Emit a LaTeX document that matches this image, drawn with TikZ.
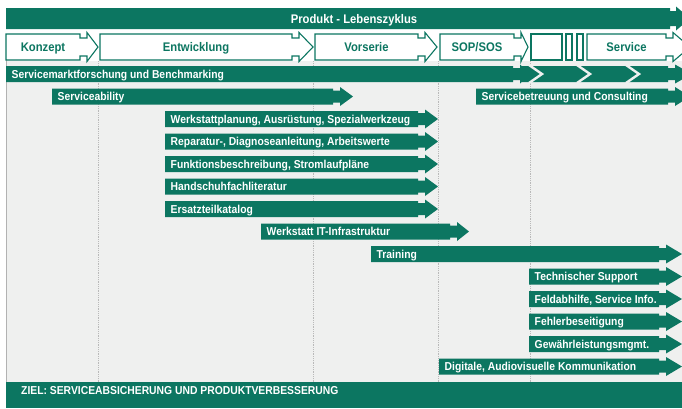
\documentclass[tikz,border=0pt]{standalone}
\usepackage{fontspec}
\setmainfont{Liberation Sans}[FakeStretch=0.9]

\definecolor{gruen}{HTML}{0C7661}
\definecolor{hintergrund}{HTML}{EFF0EF}

\tikzset{
  balkentext/.style={anchor=base west, inner sep=0pt, text=white, font=\fontsize{11.5}{13}\selectfont\bfseries},
  phasebox/.style={draw=gruen, fill=white, line width=1.1pt},
  phasetext/.style={anchor=base, inner sep=0pt, text=gruen, font=\fontsize{12.5}{14}\selectfont\bfseries},
  trenner/.style={draw=gray!55, densely dotted, line width=0.8pt},
  kerbe/.style={draw=hintergrund, line width=2.4pt},
}

% #1 name, #2 y, #3 start, #4 end of bar, #5 tip, #6 text
\newcommand{\balken}[6]{%
  \fill[gruen] (#3,{#2-8}) -- (#4,{#2-8}) -- (#4,{#2-6}) -- ({#4+7},{#2-6}) -- ({#4+7},{#2-9.5})
    -- (#5,#2) -- ({#4+7},{#2+9.5}) -- ({#4+7},{#2+6}) -- (#4,{#2+6}) -- (#4,{#2+8}) -- (#3,{#2+8}) -- cycle;
  \node[balkentext] (#1) at ({#3+5.5},{#2+4.3}) {#6};
}

% #1 name, #2 start, #3 end of box, #4 tip, #5 text
\newcommand{\phase}[5]{%
  \draw[phasebox] (#2,34) -- (#3,34) -- (#3,38) -- ({#3+7},38) -- ({#3+7},32.5) -- (#4,47)
    -- ({#3+7},61.5) -- ({#3+7},56) -- (#3,56) -- (#3,60) -- (#2,60) -- cycle;
  \node[phasetext] (#1) at ({(#2+#3)/2},51.5) {#5};
}

\begin{document}
\begin{tikzpicture}[x=1pt, y=-1pt]
\clip (0,0) rectangle (682,408);
\fill[white] (0,0) rectangle (682,408);

\fill[hintergrund] (6,61) rectangle (682,382);
\draw[gray!60, line width=0.6pt] (6,34) -- (6,382);
\foreach \x in {98,313,438,530}
  \draw[trenner] (\x,61) -- (\x,382);

% Lebenszyklus
\fill[gruen] (6,8) -- (670,8) -- (670,11) -- (676,11) -- (676,6.5) -- (690,18.5)
  -- (676,30.5) -- (676,26) -- (670,26) -- (670,29) -- (6,29) -- cycle;
\node[phasetext, text=white] (zyklus) at (354,23) {Produkt - Lebenszyklus};

\phase{konzept}{6}{80}{98}{Konzept}
\phase{entwicklung}{100}{292}{313}{Entwicklung}
\phase{vorserie}{315}{418}{437}{Vorserie}
\phase{sop}{440}{514}{528}{SOP/SOS}
\draw[phasebox] (531,34) rectangle (562,60);
\draw[phasebox] (566,34) rectangle (572,60);
\draw[phasebox] (577,34) rectangle (583,60);
\phase{service}{587}{666}{690}{Service}

% Balken
\fill[gruen] (521,66) -- (668,66) -- (668,68) -- (675,68) -- (675,64.5) -- (692,74)
  -- (675,83.5) -- (675,80) -- (668,80) -- (668,82) -- (521,82) -- cycle;
\balken{markt}{74}{6}{513}{530}{Servicemarktforschung und Benchmarking}
\foreach \x in {530,578,627}
  \draw[kerbe] ({\x-1},65) -- ({\x+12},74) -- ({\x-1},83);

\balken{serviceability}{96.5}{52}{333}{353}{Serviceability}
\balken{betreuung}{96.5}{476}{668}{690}{Servicebetreuung und Consulting}
\balken{werkstatt}{119}{165}{418}{438}{Werkstattplanung, Ausrüstung, Spezialwerkzeug}
\balken{reparatur}{141.5}{165}{418}{438}{Reparatur-, Diagnoseanleitung, Arbeitswerte}
\balken{funktion}{164}{165}{418}{438}{Funktionsbeschreibung, Stromlaufpläne}
\balken{handschuh}{186.5}{165}{418}{438}{Handschuhfachliteratur}
\balken{ersatzteil}{209}{165}{418}{438}{Ersatzteilkatalog}
\balken{infra}{231.5}{261}{450}{469}{Werkstatt IT-Infrastruktur}
\balken{training}{254}{371}{659}{682}{Training}
\balken{support}{276.5}{529}{659}{682}{Technischer Support}
\balken{feld}{299}{529}{659}{682}{Feldabhilfe, Service Info.}
\balken{fehler}{321.5}{529}{659}{682}{Fehlerbeseitigung}
\balken{gewaehr}{344}{529}{659}{682}{Gewährleistungsmgmt.}
\balken{digital}{366.5}{439}{659}{682}{Digitale, Audiovisuelle Kommunikation}

\fill[gruen] (6,382) rectangle (682,408);
\node[balkentext] (ziel) at (21,394.5) {ZIEL: SERVICEABSICHERUNG UND PRODUKTVERBESSERUNG};
\end{tikzpicture}
\end{document}
